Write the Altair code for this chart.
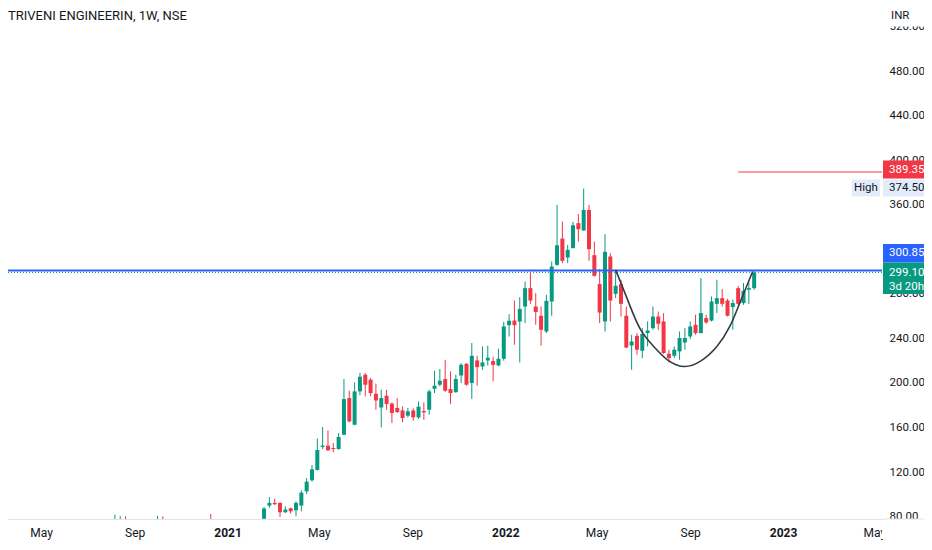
import altair as alt
import numpy as np
import pandas as pd

# ---------------- data ----------------
TITLE = "TRIVENI ENGINEERIN, 1W, NSE"
CURRENCY = "INR"
FIRST_WEEK = "2021-02-18"

opens = [78.0, 89.9, 92.3, 92.3, 83.9, 87.5, 85.7, 89.9, 102.7, 112.6,
         121.9, 142.5, 143.7, 141.6, 140.7, 153.5, 186.4, 162.5, 192.4, 207.4,
         202.9, 190.3, 178.0, 188.5, 181.5, 177.5, 175.3, 170.6, 175.3, 169.1,
         174.8, 176.0, 194.8, 198.4, 203.5, 194.5, 191.8, 206.7, 217.2, 199.9,
         220.2, 214.8, 220.2, 219.6, 215.7, 221.7, 251.9, 256.0, 255.2, 268.6,
         285.1, 268.6, 260.3, 246.2, 273.1, 306.0, 329.6, 312.6, 321.0, 343.4,
         336.8, 355.3, 314.7, 288.7, 255.2, 313.5, 280.0, 288.7, 260.3, 233.6,
         242.3, 228.9, 244.8, 249.2, 259.6, 255.2, 226.2, 224.4, 228.3, 236.3,
         241.7, 252.2, 244.7, 258.2, 256.0, 271.0, 276.1, 274.0, 268.1, 285.1,
         271.7, 283.6, 285.1]
highs = [88.7, 97.6, 96.1, 92.8, 89.2, 88.0, 93.7, 103.6, 114.7, 126.3,
         150.2, 160.4, 157.4, 146.1, 155.1, 203.5, 193.0, 200.5, 209.0, 208.9,
         204.4, 199.3, 193.9, 193.9, 182.5, 186.4, 178.9, 177.6, 177.2, 183.4,
         182.5, 193.9, 210.9, 212.5, 220.8, 210.3, 207.4, 217.8, 217.8, 235.8,
         224.4, 232.8, 233.4, 223.5, 230.7, 254.9, 261.7, 274.0, 277.0, 291.0,
         300.0, 280.6, 268.6, 279.1, 309.0, 359.8, 344.9, 323.9, 344.6, 351.7,
         374.5, 359.8, 326.9, 302.2, 333.5, 316.5, 301.5, 292.6, 268.6, 243.2,
         244.8, 249.2, 255.2, 268.6, 264.1, 262.7, 229.8, 232.7, 246.2, 249.2,
         255.2, 261.2, 294.1, 261.2, 277.6, 292.6, 284.2, 275.5, 274.9, 287.2,
         289.6, 290.1, 301.5]
lows = [76.0, 87.8, 90.5, 79.7, 83.3, 82.7, 80.3, 84.8, 100.3, 111.4,
        121.3, 140.7, 139.0, 137.7, 140.0, 153.0, 164.6, 162.0, 189.0, 188.0,
        188.0, 176.0, 160.1, 176.0, 164.0, 173.0, 164.6, 169.0, 166.1, 167.5,
        166.9, 171.5, 190.9, 196.9, 192.0, 181.3, 191.0, 199.9, 197.5, 185.5,
        197.5, 211.8, 215.7, 201.5, 215.0, 219.9, 241.7, 234.3, 218.4, 253.7,
        271.0, 252.2, 233.6, 244.8, 260.3, 305.1, 307.5, 307.5, 321.0, 326.9,
        336.8, 309.6, 295.5, 253.7, 246.2, 255.2, 276.1, 259.6, 231.2, 211.8,
        225.3, 222.3, 232.7, 247.7, 247.7, 226.2, 218.4, 222.3, 220.8, 229.8,
        239.4, 243.2, 244.7, 253.1, 255.2, 262.7, 268.6, 259.6, 247.7, 270.1,
        270.1, 271.0, 283.6]
closes = [87.2, 92.3, 91.1, 83.9, 86.3, 84.8, 92.3, 101.5, 111.4, 122.4,
          139.8, 143.7, 139.5, 140.7, 151.5, 185.5, 165.5, 192.4, 205.6, 198.4,
          190.9, 184.3, 186.4, 181.1, 173.0, 173.9, 168.5, 174.5, 169.1, 178.7,
          173.6, 192.4, 197.5, 202.0, 193.0, 190.9, 203.5, 216.3, 198.4, 224.4,
          214.2, 218.4, 222.6, 216.3, 221.7, 250.7, 255.8, 251.9, 266.3, 285.1,
          274.0, 263.6, 247.7, 273.7, 304.5, 323.6, 309.6, 319.5, 341.6, 338.0,
          355.3, 320.1, 296.1, 263.2, 317.7, 274.0, 287.2, 271.0, 231.8, 237.2,
          229.8, 244.0, 247.1, 259.6, 253.1, 226.8, 222.3, 229.8, 240.3, 240.3,
          250.7, 244.7, 262.7, 254.3, 273.1, 276.1, 271.0, 260.3, 271.7, 271.0,
          282.7, 285.1, 299.1]

# 2020 weeks whose wicks just poke above the bottom of the visible range
early_dates = ["2020-08-06", "2020-08-13", "2020-08-20", "2020-10-01", "2020-10-08", "2020-12-10"]
early_open = [73.5, 74.8, 76.2, 73.9, 75.8, 76.5]
early_high = [81.8, 80.4, 80.3, 80.5, 80.3, 82.4]
early_low = [71.6, 73.2, 72.8, 72.5, 73.0, 72.4]
early_close = [75.9, 76.4, 74.1, 75.6, 74.0, 73.6]

# hand-drawn "cup" curve
cup_dates = ["2022-05-26", "2022-06-02", "2022-06-15", "2022-06-28", "2022-07-15", "2022-08-02",
             "2022-08-23", "2022-09-14", "2022-10-06", "2022-10-23", "2022-11-05", "2022-11-22"]
cup_prices = [301.5, 289.6, 267.2, 247.7, 232.7, 220.8, 214.8, 219.3, 232.7, 250.7, 271.6, 300.0]

blue_level = 300.85
last_close = 299.10
alert_level = 389.35
alert_start = "2022-11-03"
high_value = 374.50
countdown = "3d 20h"

y_ticks = [80, 120, 160, 200, 240, 280, 360, 400, 440, 480, 520]
x_ticks = [(2020, 5), (2020, 9), (2021, 1), (2021, 5), (2021, 9), (2022, 1),
           (2022, 5), (2022, 9), (2023, 1), (2023, 5)]

# ---------------- styling ----------------
UP, DOWN, BLUE = "#089981", "#f23645", "#2962ff"
TEXT, AXIS_LINE, HIGH_BG = "#131722", "#e0e3eb", "#e3ecfb"
FONT = "Roboto, sans-serif"
LABEL_SIZE = 11.5

W, H = 874, 511
GUTTER = 42
TX = 7  # label inset from the plot's right edge
Y_MIN, Y_MAX = 77.85, 536.6
PX = H / (Y_MAX - Y_MIN)


def price_at(py):
    return Y_MAX - py / PX


XS = alt.Scale(domain=[alt.DateTime(year=2020, month=3, date=25, hours=3),
                       alt.DateTime(year=2023, month=5, date=4, hours=10)], nice=False)
YS = alt.Scale(domain=[Y_MIN, Y_MAX], nice=False, zero=False)
XAX = alt.Axis(values=[alt.DateTime(year=y, month=m, date=1) for y, m in x_ticks],
               labelExpr="month(datum.value) == 0 ? timeFormat(datum.value, '%Y') : timeFormat(datum.value, '%b')",
               labelFontWeight={"condition": {"test": "month(datum.value) == 0", "value": "bold"}, "value": "normal"},
               ticks=False, grid=False, domainColor=AXIS_LINE, labelColor=TEXT, labelFont=FONT,
               labelFontSize=12, labelPadding=8, labelFlush=False, labelOverlap=False, title=None)
YAX = alt.Axis(orient="right", values=y_ticks, format=".2f", ticks=False, domain=False, grid=False,
               labelColor=TEXT, labelFont=FONT, labelFontSize=LABEL_SIZE, labelPadding=TX,
               labelFlush=False, labelOverlap=False, title=None)
CS = alt.Scale(domain=["up", "down"], range=[UP, DOWN])


def X(f):
    return alt.X(f, type="temporal", scale=XS, axis=XAX)


def Y(f):
    return alt.Y(f, type="quantitative", scale=YS, axis=YAX)


# ---------------- frames ----------------
main = pd.DataFrame({"date": pd.date_range(FIRST_WEEK, periods=len(opens), freq="7D"),
                     "open": opens, "high": highs, "low": lows, "close": closes})
early = pd.DataFrame({"date": pd.to_datetime(early_dates), "open": early_open,
                      "high": early_high, "low": early_low, "close": early_close})
df = pd.concat([early, main], ignore_index=True)
df["dir"] = np.where(df["close"] >= df["open"], "up", "down")
top = np.maximum(df["open"], df["close"])
bot = np.minimum(df["open"], df["close"])
min_h = 1.0 / PX
mid = (top + bot) / 2
thin = (top - bot) < min_h
df["top"] = np.where(thin, mid + min_h / 2, top)
df["bot"] = np.where(thin, mid - min_h / 2, bot)

cup = pd.DataFrame({"date": pd.to_datetime(cup_dates), "price": cup_prices})

layers = []
layers.append(alt.Chart(df).mark_rule(strokeWidth=1, clip=True).encode(
    x=X("date"), y=Y("low"), y2="high", color=alt.Color("dir:N", scale=CS, legend=None)))
layers.append(alt.Chart(df).mark_bar(size=4, clip=True).encode(
    x=X("date"), y=Y("bot"), y2="top", color=alt.Color("dir:N", scale=CS, legend=None)))

layers.append(alt.Chart(pd.DataFrame({"price": [last_close]})).mark_rule(
    color=UP, strokeWidth=1, strokeDash=[1, 2]).encode(y=Y("price"), x=alt.value(0), x2=alt.value(W)))
layers.append(alt.Chart(pd.DataFrame({"price": [blue_level]})).mark_rule(
    color=BLUE, strokeWidth=2).encode(y=Y("price"), x=alt.value(0), x2=alt.value(W)))
layers.append(alt.Chart(pd.DataFrame({"date": [pd.Timestamp(alert_start)], "price": [alert_level]})).mark_rule(
    color=DOWN, strokeWidth=1).encode(x=X("date"), x2=alt.value(W), y=Y("price")))
layers.append(alt.Chart(cup).mark_line(color="#363a45", strokeWidth=1.6, interpolate="natural", clip=True).encode(
    x=X("date"), y=Y("price")))

layers.append(alt.Chart(pd.DataFrame({"t": [TITLE]})).mark_text(
    align="left", baseline="middle", font=FONT, fontSize=13, color=TEXT).encode(
    text="t:N", x=alt.value(0), y=alt.value(7.5)))

# ---------------- price-scale labels ----------------
boxes = [  # (x0, x1, plot-y top, plot-y bottom, fill)
    (W, W + GUTTER, 0, 18.5, "white"),
    (W + 1, W + GUTTER, 152.5, 170.5, DOWN),
    (W - 30.3, W - 2, 171.5, 188.5, HIGH_BG),
    (W + 1, W + GUTTER, 171.5, 188.5, HIGH_BG),
    (W + 1, W + GUTTER, 236, 254.5, BLUE),
    (W + 1, W + GUTTER, 254.5, 286, UP),
    (W, W + GUTTER, H, H + 20, "white"),
]
for x0, x1, t, b, fill in boxes:
    layers.append(alt.Chart(pd.DataFrame({"a": [price_at(t)], "b": [price_at(b)]})).mark_rect(
        color=fill).encode(x=alt.value(x0), x2=alt.value(x1), y=Y("a"), y2="b"))

layers.append(alt.Chart(pd.DataFrame({"price": [Y_MIN]})).mark_rule(color=AXIS_LINE, strokeWidth=1).encode(
    y=Y("price"), x=alt.value(W), x2=alt.value(W + GUTTER)))

texts = [  # (label, x, align, plot-y, colour)
    (CURRENCY, W + 9, "left", 7.5, TEXT),
    (f"{alert_level:.2f}", W + TX, "left", 161.5, "white"),
    ("High", W - 16, "center", 180, TEXT),
    (f"{high_value:.2f}", W + TX, "left", 180, TEXT),
    (f"{blue_level:.2f}", W + TX, "left", 245.3, "white"),
    (f"{last_close:.2f}", W + TX, "left", 265.3, "white"),
    (countdown, W + TX, "left", 278.7, "white"),
]
for label, x, align, py, col in texts:
    layers.append(alt.Chart(pd.DataFrame({"t": [label], "price": [price_at(py)]})).mark_text(
        align=align, baseline="middle", font=FONT, fontSize=LABEL_SIZE, color=col).encode(
        text="t:N", x=alt.value(x), y=Y("price")))

chart = alt.layer(*layers).properties(
    width=W, height=H, background="white",
    autosize=alt.AutoSizeParams(type="none"),
    padding={"left": 0, "top": 0, "right": GUTTER, "bottom": 22},
).configure_view(strokeWidth=0)

chart.save("out.html", embed_options={"renderer": "svg", "actions": False})
